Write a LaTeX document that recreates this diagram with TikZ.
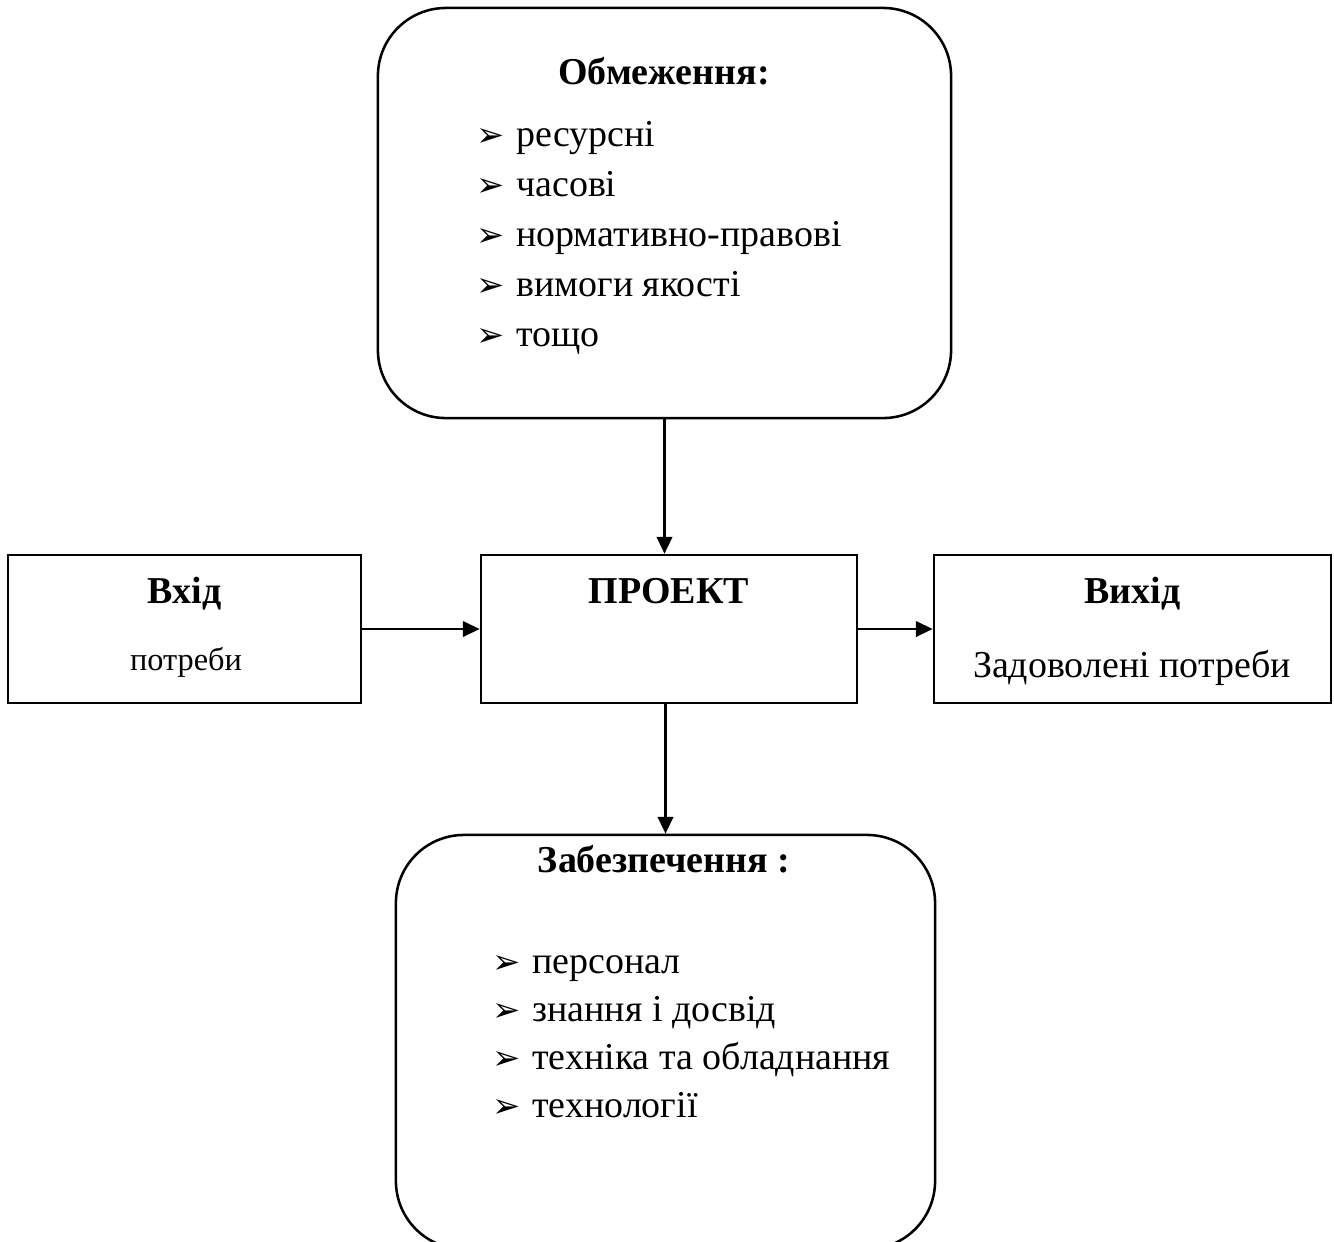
\documentclass[tikz,border=0pt]{standalone}
\usepackage{fontspec}
\setmainfont{Liberation Serif}
\newfontfamily\symfont{DejaVu Sans}
\usetikzlibrary{arrows.meta}

\begin{document}
\begin{tikzpicture}[x=0.0125cm, y=-0.0125cm, line width=0.9pt,
  every node/.style={font=\fontsize{13.5}{16}\selectfont, inner sep=0pt},
  box/.style={draw, line width=0.9pt, minimum height=1.85cm},
  rbox/.style={draw, line width=0.9pt, rounded corners=0.85cm},
  head/.style={anchor=base, font=\fontsize{13.5}{16}\selectfont\bfseries},
  bul/.style={anchor=base west, font=\symfont\fontsize{12}{14}\selectfont},
  item/.style={anchor=base west},
  arr/.style={line width=0.9pt, -{Triangle[length=6pt,width=5.5pt]}}]
	\useasboundingbox (0,0) rectangle (1334,1242);
	% frames
	\node[rbox, minimum width=7.1625cm, minimum height=5.125cm] (lim) at (664.5,213) {};
	\node[box, minimum width=4.7cm] (proj) at (669,629) {};
	\node[box, minimum width=4.4125cm] (inp) at (184.5,629) {};
	\node[box, minimum width=4.9625cm] (outp) at (1132.5,629) {};
	\node[rbox, minimum width=6.7375cm, minimum height=5.175cm] (sup) at (665.5,1042) {};
	% titles
	\node[head] (limT) at (664,84) {Обмеження:};
	\node[head] (projT) at (669,603) {ПРОЕКТ};
	\node[head] (inpT) at (184.5,603) {Вхід};
	\node[head] (outpT) at (1132.5,603) {Вихід};
	\node[head] (supT) at (664,872) {Забезпечення :};
	\node[anchor=base, font=\fontsize{11.5}{14}\selectfont] (inpD) at (186,670) {потреби};
	\node[anchor=base] (outpD) at (1132,677) {Задоволені потреби};
	% lists
	\foreach \t [count=\i] in {ресурсні, часові, нормативно-правові, вимоги якості, тощо} {
		\node[bul] (limB\i) at (475,96+50*\i) {➢};
		\node[item] (limI\i) at (515,96+50*\i) {\t};
	}
	\foreach \t [count=\i] in {персонал, знання і досвід, техніка та обладнання, технології} {
		\node[bul] (supB\i) at (491,925+48*\i) {➢};
		\node[item] (supI\i) at (531,925+48*\i) {\t};
	}
	% connectors
	\draw[arr] (lim.south) -- (lim.south |- proj.north);
	\draw[arr] (inp.east) -- (proj.west);
	\draw[arr] (proj.east) -- (outp.west);
	\draw[arr] (proj.south -| sup.north) -- (sup.north);
\end{tikzpicture}
\end{document}
